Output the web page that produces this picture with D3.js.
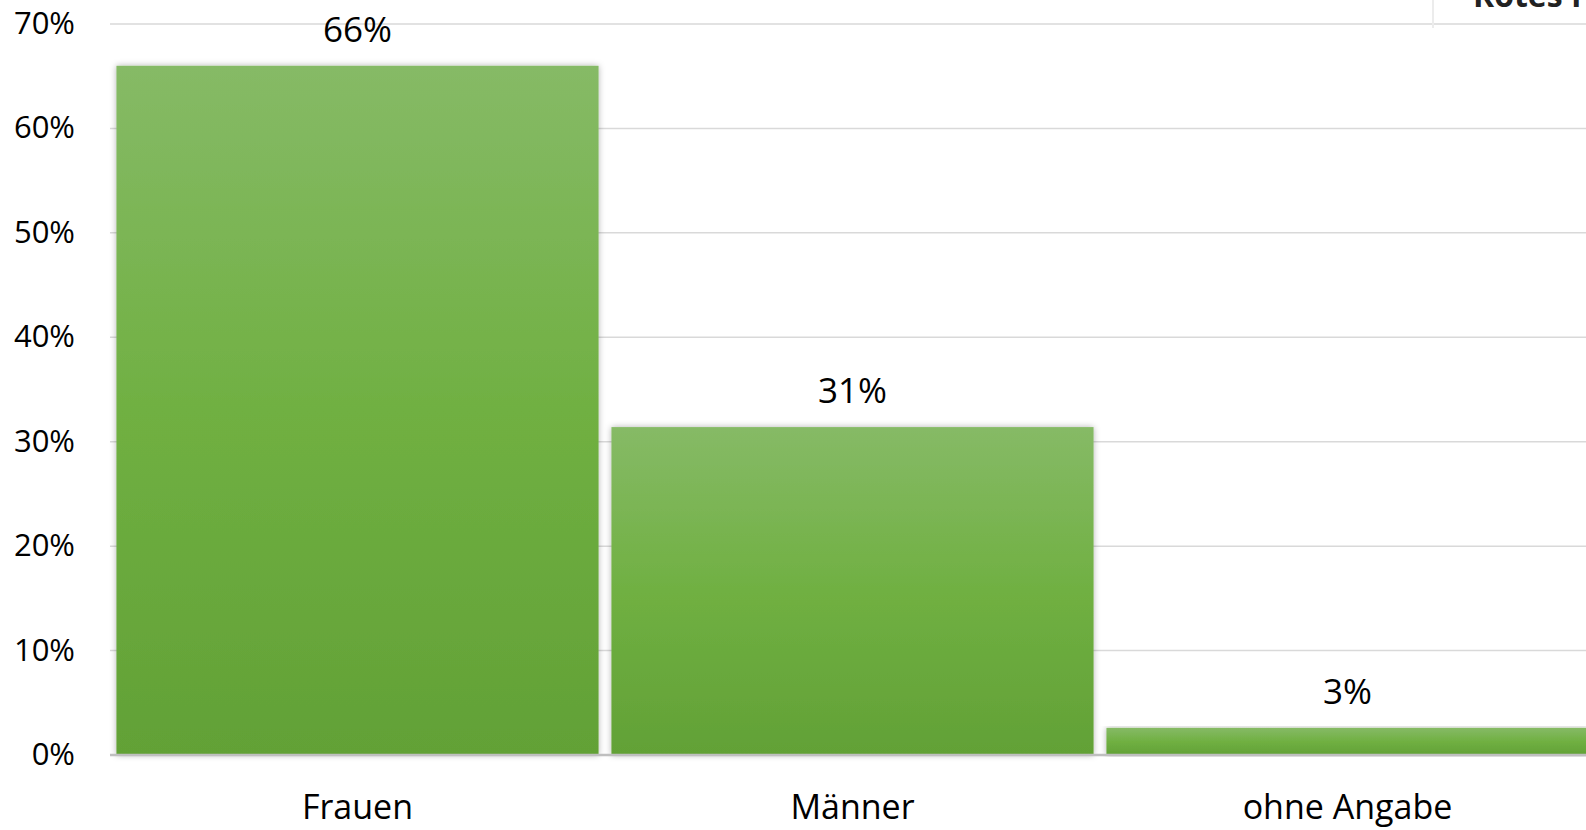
<!DOCTYPE html>
<html>
<head>
<meta charset="utf-8">
<script src="https://cdn.jsdelivr.net/npm/d3@7"></script>
<style>
    body { margin: 0; background: #fff; overflow: hidden; }
    svg { display: block; font-family: 'Open Sans', sans-serif; }
    .tick-label { font-size: 31px; fill: #000; }
    .cat-label { font-size: 34px; fill: #000; }
    .value-label { font-size: 35px; fill: #000; }
</style>
</head>
<body>
<svg id="chart"></svg>
<script>
const categories = ['Frauen', 'Männer', 'ohne Angabe'];
const shares = [66, 31.4, 2.6];
const yTicks = [0, 10, 20, 30, 40, 50, 60, 70];

class GenderChart {
    constructor(_config, _data) {
        this.config = {
            parentElement: _config.parentElement,
            containerWidth: _config.containerWidth || 1586,
            containerHeight: _config.containerHeight || 830,
            margin: { top: 24, right: -9, bottom: 75, left: 110 }
        }
        this.data = _data;
        this.initVis();
    }

    initVis() {
        let vis = this;

        vis.width = vis.config.containerWidth - vis.config.margin.left - vis.config.margin.right;
        vis.height = vis.config.containerHeight - vis.config.margin.top - vis.config.margin.bottom;

        vis.svg = d3.select(vis.config.parentElement)
            .attr('width', vis.config.containerWidth)
            .attr('height', vis.config.containerHeight);

        const defs = vis.svg.append('defs');

        // Excel style green gradient, light at the top
        const grad = defs.append('linearGradient')
            .attr('id', 'barGrad')
            .attr('x1', 0).attr('y1', 0).attr('x2', 0).attr('y2', 1);
        grad.append('stop').attr('offset', '0%').attr('stop-color', '#86ba66');
        grad.append('stop').attr('offset', '50%').attr('stop-color', '#70b042');
        grad.append('stop').attr('offset', '100%').attr('stop-color', '#62a136');

        const shadow = defs.append('filter')
            .attr('id', 'barShadow')
            .attr('x', '-5%').attr('y', '-5%').attr('width', '110%').attr('height', '110%');
        shadow.append('feDropShadow')
            .attr('dx', 0).attr('dy', 0)
            .attr('stdDeviation', 3)
            .attr('flood-color', '#000')
            .attr('flood-opacity', 0.3);

        vis.chart = vis.svg.append('g')
            .attr('transform', `translate(${vis.config.margin.left},${vis.config.margin.top})`);

        vis.xScale = d3.scaleBand()
            .domain(vis.data.map(d => d.category))
            .range([0, vis.width])
            .paddingInner(0.026)
            .paddingOuter(0.013);

        vis.yScale = d3.scaleLinear()
            .domain([0, 70])
            .range([vis.height, 0]);

        vis.renderVis();
    }

    renderVis() {
        let vis = this;

        // gridlines
        vis.chart.selectAll('.grid')
            .data(yTicks.filter(d => d > 0))
            .join('line')
            .attr('class', 'grid')
            .attr('x1', 0)
            .attr('x2', vis.width)
            .attr('y1', d => vis.yScale(d))
            .attr('y2', d => vis.yScale(d))
            .attr('stroke', '#d9d9d9')
            .attr('stroke-width', 1.5);

        // y tick labels
        vis.chart.selectAll('.tick-label')
            .data(yTicks)
            .join('text')
            .attr('class', 'tick-label')
            .attr('x', -35)
            .attr('y', d => vis.yScale(d) + 10)
            .attr('text-anchor', 'end')
            .text(d => d + '%');

        // bars
        vis.chart.selectAll('.bar')
            .data(vis.data)
            .join('rect')
            .attr('class', 'bar')
            .attr('x', d => vis.xScale(d.category))
            .attr('y', d => vis.yScale(d.value))
            .attr('width', vis.xScale.bandwidth())
            .attr('height', d => vis.height - vis.yScale(d.value))
            .attr('fill', 'url(#barGrad)')
            .attr('filter', 'url(#barShadow)');

        // value labels
        vis.chart.selectAll('.value-label')
            .data(vis.data)
            .join('text')
            .attr('class', 'value-label')
            .attr('x', d => vis.xScale(d.category) + vis.xScale.bandwidth() / 2)
            .attr('y', d => vis.yScale(d.value) - 24)
            .attr('text-anchor', 'middle')
            .text(d => Math.round(d.value) + '%');

        // baseline axis
        vis.chart.append('line')
            .attr('x1', 0)
            .attr('x2', vis.width)
            .attr('y1', vis.height)
            .attr('y2', vis.height)
            .attr('stroke', '#bfbfbf')
            .attr('stroke-width', 2.5);

        // category labels
        vis.chart.selectAll('.cat-label')
            .data(vis.data)
            .join('text')
            .attr('class', 'cat-label')
            .attr('x', d => vis.xScale(d.category) + vis.xScale.bandwidth() / 2)
            .attr('y', vis.height + 64)
            .attr('text-anchor', 'middle')
            .text(d => d.category);

        // clipped header box in the top right corner
        vis.svg.append('line')
            .attr('x1', 1433).attr('x2', 1433)
            .attr('y1', 0).attr('y2', 28)
            .attr('stroke', '#ececec')
            .attr('stroke-width', 2);
        vis.svg.append('text')
            .attr('x', 1473)
            .attr('y', 7)
            .attr('font-size', 32)
            .attr('font-weight', 'bold')
            .attr('fill', '#222')
            .text('Rotes F');
    }
}

const data = categories.map((c, i) => ({ category: c, value: shares[i] }));
new GenderChart({ parentElement: '#chart' }, data);
</script>
</body>
</html>
